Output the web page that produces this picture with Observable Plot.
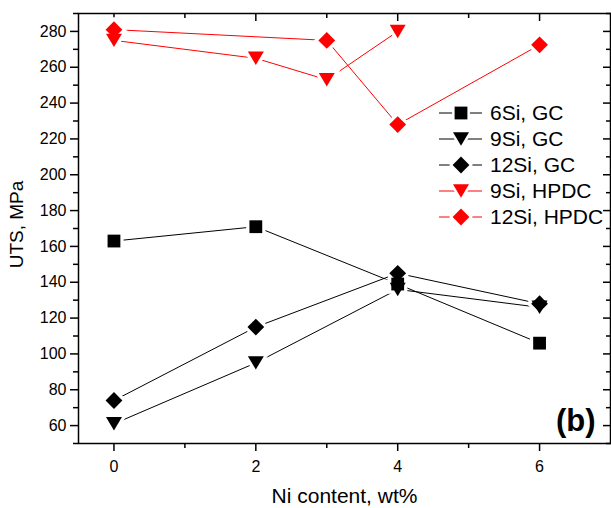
<!DOCTYPE html>
<html>
<head>
<meta charset="utf-8">
<script src="https://cdn.jsdelivr.net/npm/d3@7"></script>
<script src="https://cdn.jsdelivr.net/npm/@observablehq/plot@0.6"></script>
<style>
  html, body { margin: 0; padding: 0; background: #fff; }
</style>
</head>
<body>
<div id="chart"></div>
<script>
// ---- data ----
const xGC = [0, 2, 4, 6];
const si6GC = [163, 171, 139, 106];
const si9GC = [61, 95, 136, 126];
const si12GC = [74, 115, 145, 128];
const xHPDC9 = [0, 2, 3, 4];
const si9HPDC = [275, 265, 253, 280];
const xHPDC12 = [0, 3, 4, 6];
const si12HPDC = [281, 275, 228, 272.5];

const seriesNames = ["6Si, GC", "9Si, GC", "12Si, GC", "9Si, HPDC", "12Si, HPDC"];
const xMajor = [0, 2, 4, 6];
const xMinor = [1, 3, 5];
const yMajor = [60, 80, 100, 120, 140, 160, 180, 200, 220, 240, 260, 280];
const yMinor = [50, 70, 90, 110, 130, 150, 170, 190, 210, 230, 250, 270, 290];
const xLabel = "Ni content, wt%";
const yLabel = "UTS, MPa";
const panelTag = "(b)";

// ---- symbols (size = PI r^2) ----
const rad = size => Math.sqrt(size / Math.PI);
const symSquare = {draw(c, size) { const h = 0.8 * rad(size); c.rect(-h, -h, 2 * h, 2 * h); }};
const symDiamond = {draw(c, size) { const h = 1.05 * rad(size); c.moveTo(0, -h); c.lineTo(h, 0); c.lineTo(0, h); c.lineTo(-h, 0); c.closePath(); }};
const symTriDown = {draw(c, size) { const r = rad(size); const w = 1.0 * r, t = 0.84 * r; c.moveTo(-w, -t); c.lineTo(w, -t); c.lineTo(0, t); c.closePath(); }};

const series = [
  {name: seriesNames[0], color: "#000000", sym: symSquare, x: xGC, y: si6GC},
  {name: seriesNames[1], color: "#000000", sym: symTriDown, x: xGC, y: si9GC},
  {name: seriesNames[2], color: "#000000", sym: symDiamond, x: xGC, y: si12GC},
  {name: seriesNames[3], color: "#ff0000", sym: symTriDown, x: xHPDC9, y: si9HPDC},
  {name: seriesNames[4], color: "#ff0000", sym: symDiamond, x: xHPDC12, y: si12HPDC}
];
series.forEach(s => s.rows = s.x.map((x, i) => ({x, y: s.y[i], series: s.name})));

const W = 611, H = 508;
const mTop = 13, mBottom = 65, mLeft = 78, mRight = 1;
const R = 8;
const font = "'Liberation Sans', Arial, sans-serif";

const marks = [
  // axes: left (outward), bottom (outward)
  Plot.axisY({ticks: yMajor, tickSize: 8, tickPadding: 4, fontSize: 16, strokeWidth: 1.5, label: null, tickFormat: d => String(d)}),
  Plot.axisY({ticks: yMinor, tickSize: 5, strokeWidth: 1.5, label: null, tickFormat: () => ""}),
  Plot.axisX({ticks: xMajor, tickSize: 8, tickPadding: 9, fontSize: 16, strokeWidth: 1.5, label: null, tickFormat: d => String(d)}),
  Plot.axisX({ticks: xMinor, tickSize: 5, strokeWidth: 1.5, label: null, tickFormat: () => ""}),
  // mirrored inward ticks: top and right
  Plot.axisX({anchor: "top", ticks: xMajor, tickSize: 7, dy: 7, strokeWidth: 1.5, label: null, tickFormat: () => ""}),
  Plot.axisX({anchor: "top", ticks: xMinor, tickSize: 4, dy: 4, strokeWidth: 1.5, label: null, tickFormat: () => ""}),
  Plot.axisY({anchor: "right", ticks: yMajor, tickSize: 8, dx: -8, strokeWidth: 1.5, label: null, tickFormat: () => ""}),
  Plot.axisY({anchor: "right", ticks: yMinor, tickSize: 5, dx: -5, strokeWidth: 1.5, label: null, tickFormat: () => ""}),
  Plot.frame({stroke: "#000", strokeWidth: 1.5}),
  // lines
  ...series.map(s => Plot.line(s.rows, {x: "x", y: "y", stroke: s.color, strokeWidth: 1})),
  // white halos (gap between lines and symbols)
  ...series.map(s => Plot.dot(s.rows, {x: "x", y: "y", symbol: s.sym, r: R, fill: "#fff", stroke: "#fff", strokeWidth: 6.5})),
  // symbols
  ...series.map(s => Plot.dot(s.rows, {x: "x", y: "y", symbol: s.sym, r: R, fill: s.color, stroke: "none"})),
  // titles
  Plot.text([xLabel], {frameAnchor: "bottom", dy: 53, textAnchor: "middle", lineAnchor: "middle", fontSize: 21, fill: "#000"}),
  Plot.text([yLabel], {frameAnchor: "left", dx: -62, dy: -4, rotate: -90, textAnchor: "middle", lineAnchor: "middle", fontSize: 19, fill: "#000"}),
  Plot.text([panelTag], {frameAnchor: "bottom-right", dx: -15, dy: -12.5, textAnchor: "end", lineAnchor: "bottom", fontSize: 31, fontWeight: "bold", fill: "#000"})
];

const chart = Plot.plot({
  width: W, height: H,
  marginTop: mTop, marginBottom: mBottom, marginLeft: mLeft, marginRight: mRight,
  x: {domain: [-0.5, 7]},
  y: {domain: [50, 290]},
  style: {fontFamily: font, fontSize: "16px", color: "#000", background: "#fff", overflow: "visible"},
  marks
});
document.getElementById("chart").appendChild(chart);

// ---- legend (inside the plot area) ----
const svg = d3.select(chart);
const lg = svg.append("g").attr("class", "legend").attr("text-anchor", "start");
const lx1 = 439, lx2 = 482, lmx = 461, ltx = 490, ly0 = 113, ldy = 26;
series.forEach((s, i) => {
  const y = ly0 + i * ldy;
  lg.append("line").attr("x1", lx1).attr("x2", lx2).attr("y1", y).attr("y2", y)
    .attr("stroke", s.color).attr("stroke-width", 1);
  const p = d3.symbol().type(s.sym).size(Math.PI * R * R)();
  lg.append("path").attr("d", p).attr("transform", `translate(${lmx},${y})`)
    .attr("fill", "#fff").attr("stroke", "#fff").attr("stroke-width", 5);
  lg.append("path").attr("d", p).attr("transform", `translate(${lmx},${y})`)
    .attr("fill", s.color);
  lg.append("text").attr("x", ltx).attr("y", y).attr("dy", "0.35em")
    .attr("text-anchor", "start")
    .style("font-size", "21px").style("font-family", font).attr("fill", "#000")
    .text(s.name);
});
</script>
</body>
</html>
